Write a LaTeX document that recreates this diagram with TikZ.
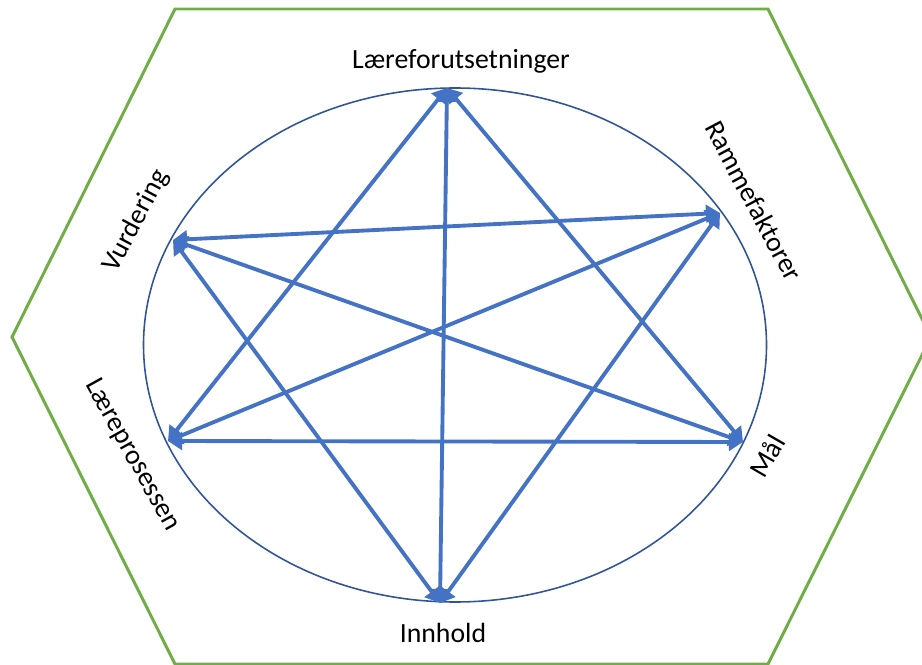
\documentclass[tikz,border=0pt]{standalone}
\usepackage{fontspec}
\setmainfont{Carlito}
\usetikzlibrary{arrows.meta}
\definecolor{hexgreen}{HTML}{70AD47}
\definecolor{ringblue}{HTML}{2F5597}
\definecolor{arrowblue}{HTML}{4472C4}

\begin{document}
\begin{tikzpicture}[
  x=0.02cm, y=-0.02cm,
  font=\fontsize{15.8}{19}\selectfont,
  hex/.style={draw=hexgreen, line width=1.7pt, line join=miter},
  ring/.style={draw=ringblue, line width=0.9pt},
  arr/.style={{Triangle[length=8pt, width=10pt]}-{Triangle[length=8pt, width=10pt]},
              draw=arrowblue, line width=2.2pt},
  labl/.style={inner sep=1pt}
]
  \useasboundingbox (0,0) rectangle (922,665);
  \clip (0,0) rectangle (922,665);

  % frame
  \draw[hex] (175,9) -- (768,9) -- (931,337) -- (768,664) -- (175,664) -- (12,337) -- cycle;
  \draw[ring] (455,345) ellipse [x radius=311.5, y radius=257];

  % points on the ring
  \coordinate (lf) at (447,88);
  \coordinate (rf) at (720,213);
  \coordinate (ml) at (743,442);
  \coordinate (ih) at (440,603);
  \coordinate (lp) at (168,441);
  \coordinate (vd) at (173,240);

  % labels
  \node[labl] (tlf) at (461,61) {Læreforutsetninger};
  \node[labl, rotate=-62] (trf) at (754,201) {Rammefaktorer};
  \node[labl, rotate=60] (tml) at (767,456) {Mål};
  \node[labl] (tih) at (443,633) {Innhold};
  \node[labl, rotate=-61] (tlp) at (132,455) {Læreprosessen};
  \node[labl, rotate=62] (tvd) at (136,221) {Vurdering};

  % connections
  \draw[arr] (lf) -- (lp);
  \draw[arr] (lf) -- (ih);
  \draw[arr] (lf) -- (ml);
  \draw[arr] (vd) -- (rf);
  \draw[arr] (vd) -- (ml);
  \draw[arr] (vd) -- (ih);
  \draw[arr] (lp) -- (rf);
  \draw[arr] (lp) -- (ml);
  \draw[arr] (ih) -- (rf);
\end{tikzpicture}
\end{document}
